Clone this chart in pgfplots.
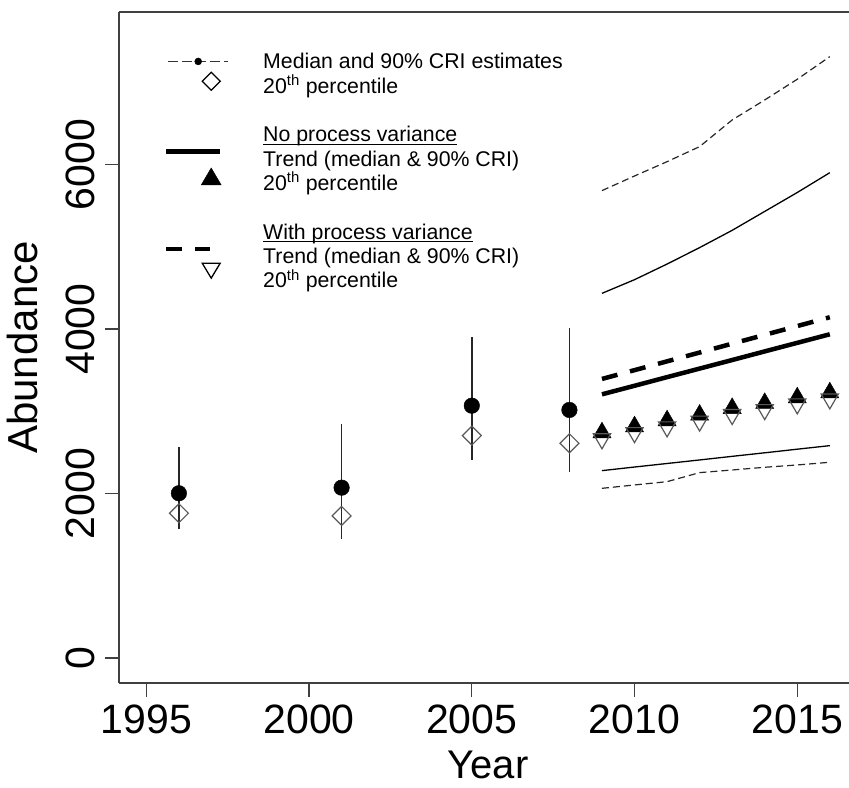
\documentclass[border=0pt]{standalone}
\usepackage{fontspec}
\setmainfont{Liberation Sans}
\usepackage{pgfplots}
\usepackage{pgfplotstable}
\pgfplotsset{compat=1.18}

% underline that sits just under the baseline, whatever the descenders
\newlength\ulw
\newcommand\ul[1]{\settowidth{\ulw}{#1}\rlap{\rule[-3pt]{\ulw}{1.3pt}}#1}

% survey estimates: median, 90% CRI, 20th percentile
\pgfplotstableread{
year med lo hi p20
1996 2003 1565 2570 1760
2001 2071 1443 2845 1727
2005 3068 2408 3907 2704
2008 3016 2266 4009 2611
}\surveys

% projections: np = no process variance, pv = with process variance
\pgfplotstableread{
year npmed nplo nphi npp20 pvmed pvlo pvhi pvp20
2009 3206 2278 4434 2740 3393 2063 5683 2665
2010 3310 2322 4600 2813 3500 2104 5861 2740
2011 3415 2365 4790 2886 3607 2144 6035 2810
2012 3519 2408 4990 2955 3714 2254 6218 2880
2013 3623 2452 5200 3036 3822 2286 6542 2960
2014 3728 2495 5430 3097 3929 2319 6785 3020
2015 3832 2539 5660 3165 4036 2347 7037 3090
2016 3936 2582 5901 3226 4143 2380 7312 3150
}\projection

\begin{document}
\begin{tikzpicture}
\begin{axis}[
    name=ax,
    scale only axis,
    width=730pt, height=671pt,
    xmin=1994.16, xmax=2016.59,
    ymin=-304, ymax=7855,
    axis x line*=bottom, axis y line*=left,
    axis line style={-, black!75, line width=1.3pt},
    xtick={1995,2000,2005,2010,2015},
    ytick={0,2000,4000,6000},
    tick align=outside,
    major tick length=14pt,
    tick style={black!75, line width=1.3pt},
    /pgf/number format/assume math mode=true,
    /pgf/number format/1000 sep={},
    ticklabel style={font=\fontsize{41}{49}\selectfont},
    xticklabel style={inner sep=0pt, anchor=north},
    xticklabel shift=8pt,
    yticklabel style={rotate=90, anchor=base, inner sep=0pt},
    yticklabel shift=11pt,
    legend style={draw=none, fill=none, at={(axis description cs:0.0644,0.9385)},
        anchor=north west, inner sep=0pt, row sep=8.3pt, column sep=35pt,
        font=\fontsize{21.3}{24}\selectfont,
        nodes={inner sep=0pt, text height=15.5pt, text depth=0.5pt}},
    legend cell align=left,
]

% legend keys
\addlegendimage{legend image code/.code={
    \path[draw=none, fill=none] (0pt,-4pt) rectangle (62pt,4pt);
    \draw[overlay, black!80, line width=1pt, dash pattern=on 10pt off 4pt] (2pt,0pt) -- (62pt,0pt);
    \fill[overlay, black] (32pt,0pt) circle (3.5pt);}}
\addlegendentry{Median and 90\% CRI estimates}
\addlegendimage{legend image code/.code={
    \path[draw=none, fill=none] (0pt,-4pt) rectangle (62pt,4pt);
    \draw[overlay, black, line width=1.3pt] (45pt,-4.5pt) -- (54pt,4.5pt) -- (45pt,13.5pt) -- (36pt,4.5pt) -- cycle;}}
\addlegendentry{20\textsuperscript{th} percentile}
\addlegendimage{empty legend}
\addlegendentry{}
\addlegendimage{empty legend}
\addlegendentry{\ul{No process variance}}
\addlegendimage{legend image code/.code={
    \path[draw=none, fill=none] (0pt,-4pt) rectangle (62pt,4pt);
    \draw[overlay, black, line width=4.5pt] (0pt,7pt) -- (54pt,7pt);}}
\addlegendentry{Trend (median \& 90\% CRI)}
\addlegendimage{legend image code/.code={
    \path[draw=none, fill=none] (0pt,-4pt) rectangle (62pt,4pt);
    \fill[overlay, black] (45pt,15pt) -- (55pt,-2pt) -- (35pt,-2pt) -- cycle;}}
\addlegendentry{20\textsuperscript{th} percentile}
\addlegendimage{empty legend}
\addlegendentry{}
\addlegendimage{empty legend}
\addlegendentry{\ul{With process variance}}
\addlegendimage{legend image code/.code={
    \path[draw=none, fill=none] (0pt,-4pt) rectangle (62pt,4pt);
    \draw[overlay, black, line width=4.5pt] (0pt,7pt) -- (16pt,7pt) (29pt,7pt) -- (44pt,7pt);}}
\addlegendentry{Trend (median \& 90\% CRI)}
\addlegendimage{legend image code/.code={
    \path[draw=none, fill=none] (0pt,-4pt) rectangle (62pt,4pt);
    \draw[overlay, black, line width=1.3pt] (45pt,2pt) -- (54pt,17pt) -- (36pt,17pt) -- cycle;}}
\addlegendentry{20\textsuperscript{th} percentile}

% survey estimates
\addplot[forget plot, only marks, mark=none,
    error bars/.cd, y dir=both, y explicit, error mark=none,
    error bar style={black!85, line width=1.5pt}]
    table[x=year, y=med,
          y error plus expr=\thisrow{hi}-\thisrow{med},
          y error minus expr=\thisrow{med}-\thisrow{lo}] {\surveys};
\addplot[forget plot, only marks, mark=*, mark size=7.8pt, black]
    table[x=year, y=med] {\surveys};
\addplot[forget plot, only marks, mark=square, mark size=6.7pt,
    mark options={rotate=45, black!65, line width=1.2pt}]
    table[x=year, y=p20] {\surveys};

% CRI bounds
\addplot[forget plot, black, line width=1.3pt] table[x=year, y=nplo] {\projection};
\addplot[forget plot, black, line width=1.3pt] table[x=year, y=nphi] {\projection};
\addplot[forget plot, black!85, line width=1.2pt, dash pattern=on 7pt off 4pt] table[x=year, y=pvlo] {\projection};
\addplot[forget plot, black!85, line width=1.2pt, dash pattern=on 7pt off 4pt] table[x=year, y=pvhi] {\projection};
% medians
\addplot[forget plot, black, line width=4.5pt] table[x=year, y=npmed] {\projection};
\addplot[forget plot, black, line width=4.5pt, dash pattern=on 16pt off 13pt] table[x=year, y=pvmed] {\projection};
% 20th percentiles
\addplot[forget plot, only marks, mark=triangle*, mark size=10.5pt, black]
    table[x=year, y=npp20] {\projection};
\addplot[forget plot, only marks, mark=triangle, mark size=10pt,
    mark options={rotate=180, black!65, line width=1.2pt}]
    table[x=year, y=pvp20] {\projection};
\end{axis}

\draw[black!75, line width=1.3pt] (ax.north west) -- (ax.north east);
\node[font=\fontsize{42}{50}\selectfont, rotate=90, anchor=base, inner sep=0pt]
    at ([xshift=-81pt]ax.west) {Abundance};
\node[font=\fontsize{40}{48}\selectfont, anchor=base, inner sep=0pt]
    at ([xshift=4pt, yshift=-96pt]ax.south) {Year};

\pgfresetboundingbox
\path ([shift={(-119pt,-105pt)}]ax.south west) rectangle ([shift={(0pt,12pt)}]ax.north east);
\end{tikzpicture}
\end{document}
